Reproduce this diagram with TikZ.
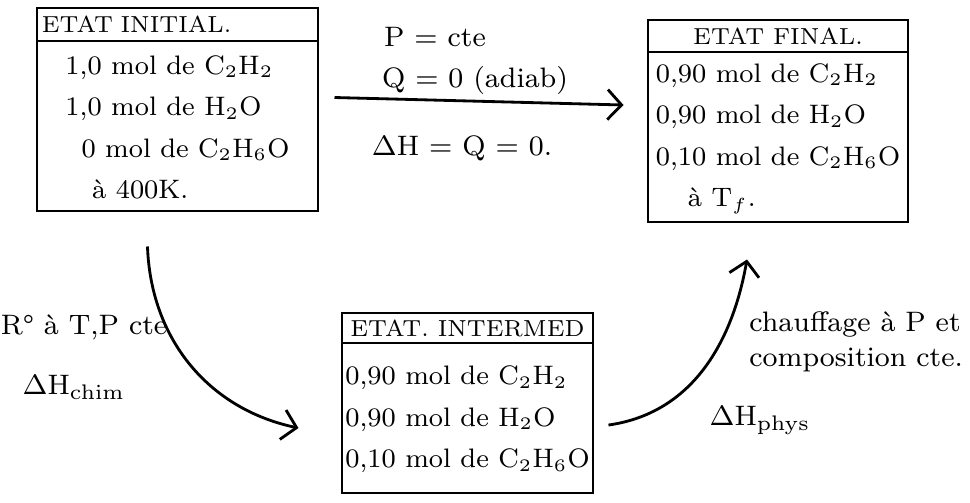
\documentclass[tikz,border=0pt]{standalone}
\usetikzlibrary{arrows.meta, positioning, calc}

\tikzset{
  etat/.style={draw, thick, inner sep=0pt},
  head/.style={draw, thick, inner xsep=0.05cm, inner ysep=0pt, font=\fontsize{6.6}{8}\selectfont},
  liste/.style={align=left, inner sep=0pt, font=\fontsize{7.6}{11.8}\selectfont},
  lbl/.style={inner sep=0pt, font=\fontsize{8}{10}\selectfont},
  fleche/.style={thick, -{Straight Barb[length=0.14cm, width=0.3cm]}},
}

\begin{document}
\begin{tikzpicture}[x=0.01cm, y=-0.01cm, thick]
    \useasboundingbox (0,0) rectangle (970,502);

    % States
    \node[etat, minimum width=2.81cm, minimum height=2.03cm] (init) at (177.5,109.5) {};
    \node[head, minimum width=2.81cm, minimum height=0.33cm, text width=2.71cm, align=left, anchor=north] (inithead) at (init.north) {ETAT INITIAL.};
    \node[liste] (initlist) at ($(inithead.south)!0.5!(init.south)$) {1,0 mol de C$_2$H$_2$\\ 1,0 mol de H$_2$O\\ \hspace*{0.6em}0 mol de C$_2$H$_6$O\\ \hspace*{1em}à 400K.};

    \node[etat, minimum width=2.60cm, minimum height=2.02cm] (final) at (778,121) {};
    \node[head, minimum width=2.60cm, minimum height=0.32cm, anchor=north] (finalhead) at (final.north) {ETAT FINAL.};
    \node[liste] (finallist) at ($(finalhead.south)!0.5!(final.south)$) {0,90 mol de C$_2$H$_2$\\ 0,90 mol de H$_2$O\\ 0,10 mol de C$_2$H$_6$O\\ \hspace*{1.2em}à T$_f$.};

    \node[etat, minimum width=2.51cm, minimum height=1.80cm] (inter) at (467.5,403) {};
    \node[head, minimum width=2.51cm, minimum height=0.30cm, anchor=north] (interhead) at (inter.north) {\mbox{ETAT. INTERMED}};
    \node[liste] (interlist) at ($(interhead.south)!0.5!(inter.south)$) {0,90 mol de C$_2$H$_2$\\ 0,90 mol de H$_2$O\\ 0,10 mol de C$_2$H$_6$O};

    % Paths
    \draw[fleche] ([xshift=0.15cm,yshift=0.12cm]init.east) -- ([xshift=-0.23cm,yshift=0.16cm]final.west);
    \draw[fleche] ([xshift=-0.3cm,yshift=-0.34cm]init.south) to[out=-88, in=168] ([xshift=-0.42cm,yshift=-0.25cm]inter.west);
    \draw[fleche] ([xshift=0.14cm,yshift=-0.22cm]inter.east) to[out=8, in=-100] ([xshift=-0.31cm,yshift=-0.36cm]final.south);

    % Labels
    \node[lbl] (pcte) at (435,37) {P = cte};
    \node[lbl] (adiab) at (475,80) {Q = 0 (adiab)};
    \node[lbl] (dhzero) at (462,148) {$\Delta$H = Q = 0.};
    \node[lbl] (reac) at (84,327) {R° à T,P cte};
    \node[lbl] (dhchim) at (74,387) {$\Delta$H$_{\mathrm{chim}}$};
    \node[lbl, align=left, anchor=west] (chauf) at (748,342) {chauffage à P et\\ composition cte.};
    \node[lbl] (dhphys) at (760,420) {$\Delta$H$_{\mathrm{phys}}$};
\end{tikzpicture}
\end{document}
